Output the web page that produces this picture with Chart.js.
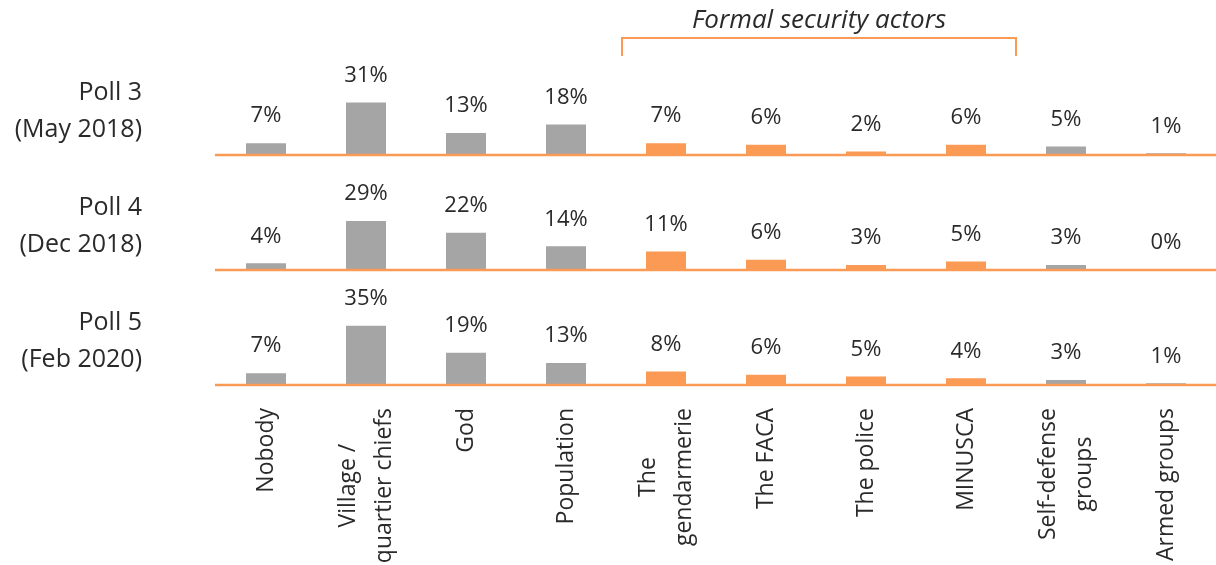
<!DOCTYPE html>
<html>
<head>
<meta charset="utf-8">
<script src="https://cdn.jsdelivr.net/npm/chart.js@4"></script>
<style>
  html, body { margin: 0; padding: 0; background: #ffffff; }
  #wrap { width: 1216px; height: 565px; position: relative; }
</style>
</head>
<body>
<div id="wrap"><canvas id="c"></canvas></div>
<script>
// ---- data ----
const categories = [
  ["Nobody"], ["Village /", "quartier chiefs"], ["God"], ["Population"],
  ["The", "gendarmerie"], ["The FACA"], ["The police"], ["MINUSCA"],
  ["Self-defense", "groups"], ["Armed groups"]
];
const pollNames = [["Poll 3", "(May 2018)"], ["Poll 4", "(Dec 2018)"], ["Poll 5", "(Feb 2020)"]];
const poll3 = [7, 31, 13, 18, 7, 6, 2, 6, 5, 1];
const poll4 = [4, 29, 22, 14, 11, 6, 3, 5, 3, 0];
const poll5 = [7, 35, 19, 13, 8, 6, 5, 4, 3, 1];
const formalFirst = 4, formalLast = 7;
const groupTitle = "Formal security actors";

// ---- styles ----
const ORANGE = '#FA9A55';
const GRAY = '#A5A5A5';
const TEXT = '#2a2a2a';
const FONT = '"Open Sans", "Liberation Sans", sans-serif';

const barColors = categories.map((_, i) => (i >= formalFirst && i <= formalLast) ? ORANGE : GRAY);
const series = [poll3, poll4, poll5];
const axisIds = ['y1', 'y2', 'y3'];

const datasets = series.map((d, k) => ({
  label: pollNames[k].join(' '),
  data: d,
  yAxisID: axisIds[k],
  backgroundColor: barColors,
  borderWidth: 0,
  grouped: false,
  barPercentage: 0.4,
  categoryPercentage: 1.0
}));

const yScale = () => ({
  type: 'linear',
  position: 'left',
  stack: 'polls',
  stackWeight: 1,
  min: 0,
  max: 68,
  display: false
});

const overlay = {
  id: 'overlay',
  afterDatasetsDraw(chart) {
    const ctx = chart.ctx;
    const xs = chart.scales.x;
    ctx.save();
    // baselines
    axisIds.forEach((id) => {
      const y = chart.scales[id].getPixelForValue(0);
      ctx.strokeStyle = ORANGE;
      ctx.lineWidth = 2.5;
      ctx.beginPath();
      ctx.moveTo(xs.left - 1, y);
      ctx.lineTo(chart.width, y);
      ctx.stroke();
    });
    // value labels
    ctx.fillStyle = TEXT;
    ctx.font = '400 22px ' + FONT;
    ctx.textAlign = 'center';
    ctx.textBaseline = 'middle';
    chart.data.datasets.forEach((ds, k) => {
      const meta = chart.getDatasetMeta(k);
      meta.data.forEach((bar, i) => {
        ctx.fillText(ds.data[i] + '%', bar.x, bar.y - 27);
      });
    });
    // row titles
    ctx.textAlign = 'right';
    ctx.font = '400 25px ' + FONT;
    axisIds.forEach((id, k) => {
      const y0 = chart.scales[id].getPixelForValue(0);
      const lines = pollNames[k];
      ctx.fillText(lines[0], 142, y0 - 62);
      ctx.fillText(lines[1], 142, y0 - 25);
    });
    // category labels (rotated)
    ctx.font = '400 23px ' + FONT;
    ctx.textAlign = 'center';
    ctx.textBaseline = 'middle';
    const top = chart.scales.y3.getPixelForValue(0) + 23;
    categories.forEach((lines, i) => {
      const cx = xs.getPixelForValue(i);
      const w = Math.max(...lines.map(l => ctx.measureText(l).width));
      ctx.save();
      ctx.translate(cx, top + w / 2);
      ctx.rotate(-Math.PI / 2);
      lines.forEach((l, j) => {
        ctx.fillText(l, 0, (j - (lines.length - 1) / 2) * 36);
      });
      ctx.restore();
    });
    // bracket for formal security actors
    const bx0 = xs.getPixelForValue(formalFirst) - 44;
    const bx1 = xs.getPixelForValue(formalLast) + 50;
    ctx.strokeStyle = ORANGE;
    ctx.lineWidth = 2;
    ctx.beginPath();
    ctx.moveTo(bx0, 56);
    ctx.lineTo(bx0, 38);
    ctx.lineTo(bx1, 38);
    ctx.lineTo(bx1, 56);
    ctx.stroke();
    ctx.font = 'italic 400 26px ' + FONT;
    ctx.textAlign = 'center';
    ctx.fillText(groupTitle, (bx0 + bx1) / 2, 21);
    ctx.restore();
  }
};

new Chart(document.getElementById('c'), {
  type: 'bar',
  data: { labels: categories.map(c => c.join(' ')), datasets },
  options: {
    responsive: true,
    maintainAspectRatio: false,
    animation: false,
    layout: { padding: { left: 216, right: 0, top: 40, bottom: 180 } },
    plugins: { legend: { display: false }, tooltip: { enabled: false } },
    scales: {
      x: { type: 'category', display: false, offset: true },
      y3: yScale(),
      y2: yScale(),
      y1: yScale()
    }
  },
  plugins: [overlay]
});
</script>
</body>
</html>
